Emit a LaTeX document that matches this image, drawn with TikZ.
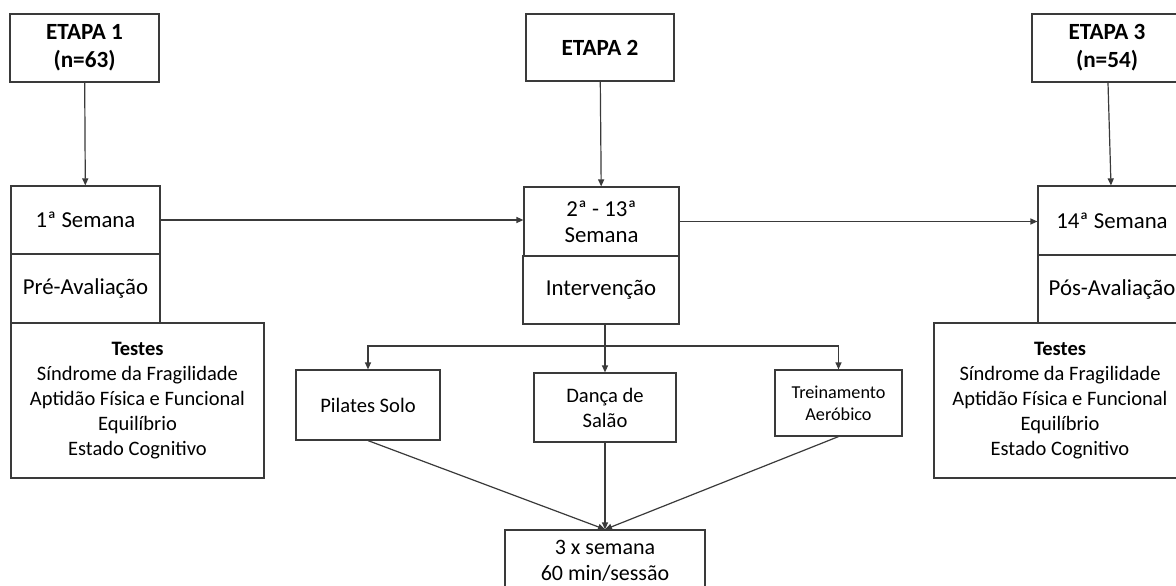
\documentclass[tikz,border=0pt]{standalone}
\usepackage{fontspec}
\setmainfont{Carlito}
\usetikzlibrary{arrows.meta}
\definecolor{linegray}{HTML}{3A3A3A}
\begin{document}
\begin{tikzpicture}[x=1pt,y=-1pt,
  cell/.style={draw=linegray,line width=1.2pt,inner sep=0pt,align=center,
    font=\fontsize{22.8}{26}\selectfont},
  stagebox/.style={cell,font=\fontsize{23.2}{28}\selectfont\bfseries},
  testbox/.style={cell,font=\fontsize{20.5}{25}\selectfont},
  arr/.style={draw=linegray,line width=1.2pt,-{Triangle[length=7pt,width=6pt]}},
  link/.style={draw=linegray,line width=1.2pt}]
\clip (0,0) rectangle (1176,586);
\fill[white] (0,0) rectangle (1176,586);
% etapas
\node[stagebox,minimum width=149,minimum height=68] (e1) at (84.5,48) {ETAPA 1\\(n=63)};
\node[stagebox,minimum width=148,minimum height=67] (e2) at (600,47.5) {ETAPA 2};
\node[stagebox,minimum width=150,minimum height=68] (e3) at (1107,48) {ETAPA 3\\(n=54)};
% semanas
\node[cell,minimum width=149,minimum height=68] (s1) at (85.5,220) {1ª Semana};
\node[cell,minimum width=149,minimum height=69] (p1) at (85.5,288.5) {Pré-Avaliação};
\node[cell,minimum width=155,minimum height=69] (s2) at (601.5,221.5) {2ª - 13ª\\Semana};
\node[cell,minimum width=156,minimum height=68] (i2) at (601,290) {Intervenção};
\node[cell,minimum width=148,minimum height=69] (s3) at (1112,220.5) {14ª Semana};
\node[cell,minimum width=148,minimum height=68] (p3) at (1112,289) {Pós-Avaliação};
% testes
\node[testbox,minimum width=253,minimum height=155] (t1) at (137.5,400.5)
  {\textbf{Testes}\\Síndrome da Fragilidade\\Aptidão Física e Funcional\\Equilíbrio\\Estado Cognitivo};
\node[testbox,minimum width=252,minimum height=155] (t3) at (1060,400.5)
  {\textbf{Testes}\\Síndrome da Fragilidade\\Aptidão Física e Funcional\\Equilíbrio\\Estado Cognitivo};
% intervencoes
\node[cell,font=\fontsize{20.6}{25}\selectfont,minimum width=144,minimum height=70] (pil) at (368,405) {Pilates Solo};
\node[cell,font=\fontsize{20.6}{25}\selectfont,minimum width=142,minimum height=69] (dan) at (605,407.5) {Dança de\\Salão};
\node[cell,font=\fontsize{18.2}{22}\selectfont,minimum width=127,minimum height=66] (tre) at (838.5,403) {Treinamento\\Aeróbico};
\node[cell,font=\fontsize{22}{26}\selectfont,minimum width=200,minimum height=62] (fin) at (605,561) {3 x semana\\60 min/sessão};
\coordinate (fork) at (605,346);
% conexoes
\foreach \a/\b in {e1/s1,e2/s2,e3/s3}
  \draw[arr] (\a) -- (\b);
\draw[arr] (s1.east) -- (s1.east -| s2.west);
\draw[arr] (s2.east) -- (s2.east -| s3.west);
\draw[link] (i2.south -| fork) -- (fork);
\foreach \n in {pil,dan,tre}
  \draw[arr] (fork) -| (\n.north);
\foreach \n in {pil,dan,tre}
  \draw[arr] (\n.south) -- (fin.north);
\end{tikzpicture}
\end{document}
